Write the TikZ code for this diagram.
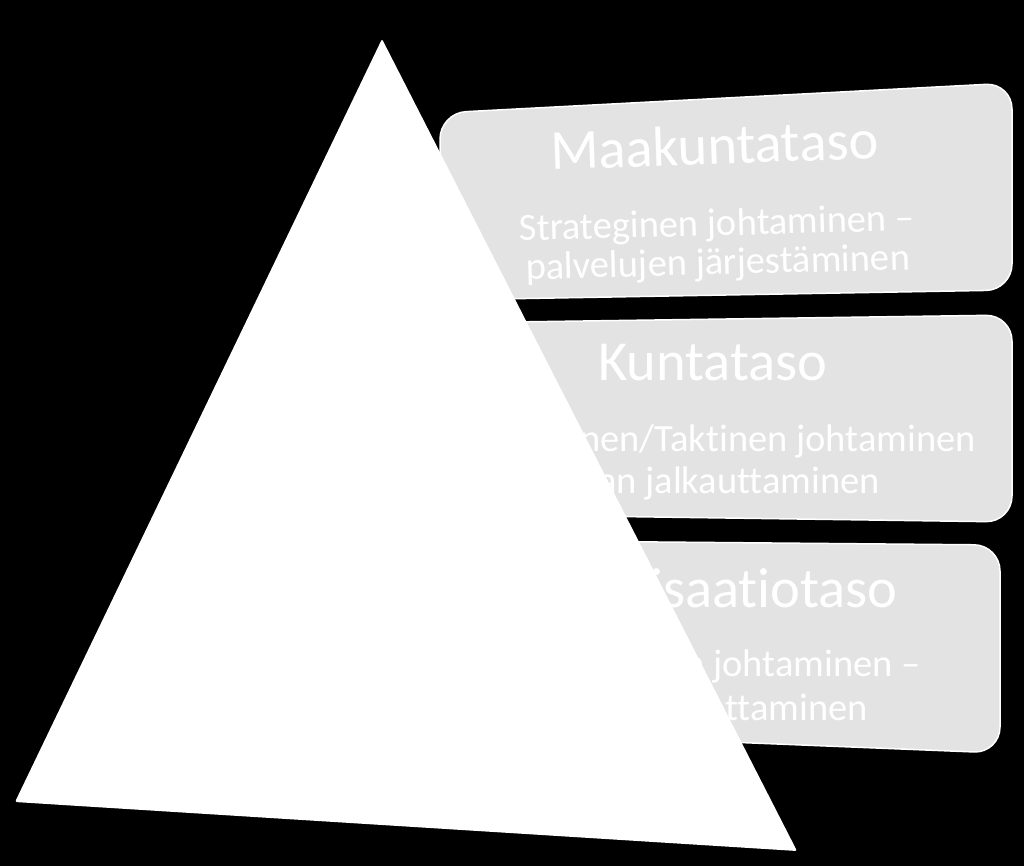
\documentclass[tikz,border=0pt]{standalone}
\usepackage{fontspec}
\setmainfont[Ligatures={NoCommon,NoRare}]{Carlito}
\definecolor{boxgrey}{RGB}{227,227,227}
\begin{document}
\begin{tikzpicture}[x=1pt,y=-1pt,
  levelbox/.style={fill=boxgrey,draw=white,line width=1.5pt,rounded corners=26pt},
  titletext/.style={text=white,inner sep=0pt,font=\fontsize{56.5}{60}\selectfont},
  subtext/.style={text=white,inner sep=0pt,text height=0.72em,text depth=0.1em,font=\fontsize{38.5}{40}\selectfont},
  subblock/.style={text=white,inner sep=0pt,align=center,font=\fontsize{38.5}{39}\selectfont},
  pyramid/.style={fill=white,draw=none,rounded corners=2pt}]
\fill[black] (0,0) rectangle (1024,866);
\useasboundingbox (0,0) rectangle (1024,866);

% box 1
\coordinate (b1tl) at (440,113);
\coordinate (b1tr) at (1012,83);
\coordinate (b1br) at (1012,290);
\coordinate (b1bl) at (440,300);
\draw[levelbox] (b1tl) -- (b1tr) -- (b1br) -- (b1bl) -- cycle;
\node[titletext,anchor=base,rotate=2] (t1) at (715,164) {Maakuntataso};
\node[subblock,anchor=center,rotate=1.5] (s1) at (717.5,245) {Strateginen johtaminen –\\palvelujen järjestäminen};

% box 2
\coordinate (b2tl) at (440,323);
\coordinate (b2tr) at (1012,315);
\coordinate (b2br) at (1012,522);
\coordinate (b2bl) at (440,514);
\draw[levelbox] (b2tl) -- (b2tr) -- (b2br) -- (b2bl) -- cycle;
\node[titletext,anchor=base] (t2) at (713,380) {Kuntataso};
\node[subtext,anchor=base east] (s2a) at (976,451) {Operatiivinen/Taktinen johtaminen};
\node[subtext,anchor=base east] (s2b) at (880,493) {strategian jalkauttaminen};

% box 3
\coordinate (b3tl) at (430,540);
\coordinate (b3tr) at (1000,545);
\coordinate (b3br) at (1000,753);
\coordinate (b3bl) at (430,730);
\draw[levelbox] (b3tl) -- (b3tr) -- (b3br) -- (b3bl) -- cycle;
\node[titletext,anchor=base east] (t3) at (898,607) {Organisaatiotaso};
\node[subtext,anchor=base east] (s3a) at (921,676) {Operatiivinen johtaminen –};
\node[subtext,anchor=base east] (s3b) at (868,720) {palvelujen tuottaminen};

% pyramid
\coordinate (apex) at (382,39);
\coordinate (pl) at (15,802);
\coordinate (pr) at (797,851);
\fill[pyramid] (apex) -- (pr) -- (pl) -- cycle;
\end{tikzpicture}
\end{document}
